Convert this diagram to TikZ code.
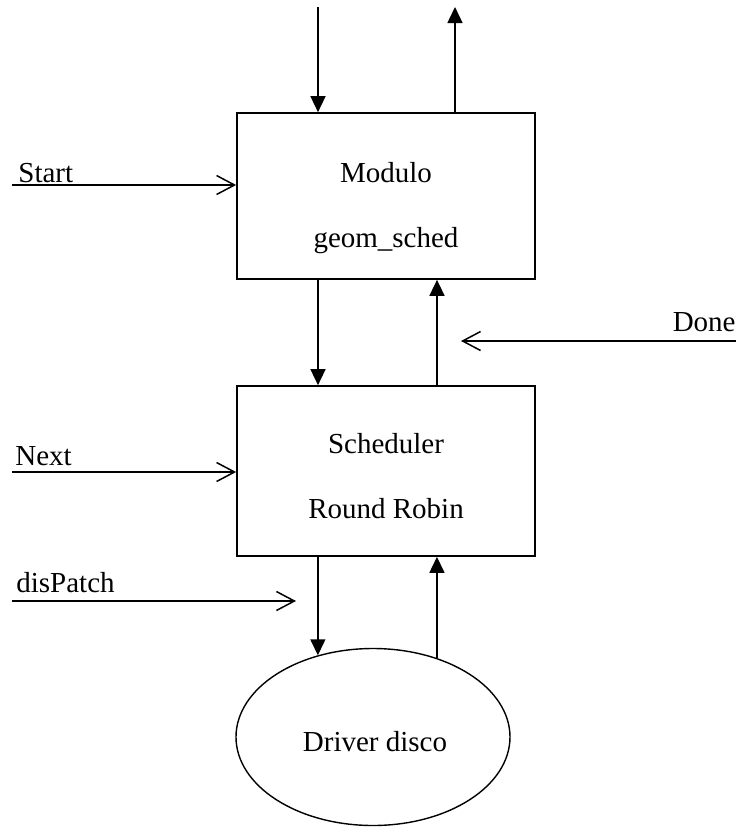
\documentclass[tikz,border=0pt]{standalone}
\usepackage{fontspec}
\setmainfont{Liberation Serif}
\usetikzlibrary{arrows.meta,shapes.geometric,positioning}

\tikzset{
	blk/.style={draw, line width=0.85pt, minimum width=149pt, inner sep=0pt},
	drv/.style={ellipse, draw, line width=0.7pt, minimum width=137pt, minimum height=88.5pt, inner sep=0pt},
	txt/.style={inner sep=0pt, font=\fontsize{14.5}{17}\selectfont},
	flow/.style={line width=0.75pt, -{Triangle[length=8pt, width=7.5pt]}},
	sig/.style={line width=0.75pt, -{Straight Barb[length=9pt, width=9.5pt, line width=0.75pt]}}
}

\begin{document}
\begin{tikzpicture}[x=0.5pt, y=-0.5pt]
			\useasboundingbox (0, 0) rectangle (736, 827);

			\node [blk, minimum height=83pt] (mod) at (386, 196) {};
			\node [txt, anchor=base] (modname) at (386, 182) {Modulo};
			\node [txt, anchor=base] (modsub) at (386, 247) {geom\_sched};

			\node [blk, minimum height=85pt] (sch) at (386, 471) {};
			\node [txt, anchor=base] (schname) at (386, 453) {Scheduler};
			\node [txt, anchor=base] (schsub) at (386, 518) {Round Robin};

			\node [drv] (disk) at (373, 737) {};
			\node [txt, anchor=base] (diskname) at (375, 751) {Driver disco};

			\node [txt, anchor=base west] (start) at (18, 182) {Start};
			\node [txt, anchor=base west] (next) at (15, 465) {Next};
			\node [txt, anchor=base west] (dispatch) at (16, 592) {disPatch};
			\node [txt, anchor=base east] (done) at (736, 331) {Done};

			\coordinate (topin) at (318, 7);
			\coordinate (topout) at (455, 7);
			\coordinate (back) at (437, 0);
			\coordinate (startL) at (12, 185);
			\coordinate (nextL) at (12, 472);
			\coordinate (dispL) at (12, 601);
			\coordinate (dispR) at (296, 601);
			\coordinate (doneR) at (736, 341);
			\coordinate (doneL) at (461, 341);

			\draw [flow] (topin) -- (topin |- mod.north);
			\draw [flow] (topout |- mod.north) -- (topout);
			\draw [sig] (startL) -- (startL -| mod.west);

			\draw [flow] (topin |- mod.south) -- (topin |- sch.north);
			\draw [flow] (back |- sch.north) -- (back |- mod.south);
			\draw [sig] (doneR) -- (doneL);

			\draw [sig] (nextL) -- (nextL -| sch.west);
			\draw [sig] (dispL) -- (dispR);

			\draw [flow] (disk.124 |- sch.south) -- (disk.124);
			\draw [flow] (disk.51) -- (disk.51 |- sch.south);
		\end{tikzpicture}
\end{document}
